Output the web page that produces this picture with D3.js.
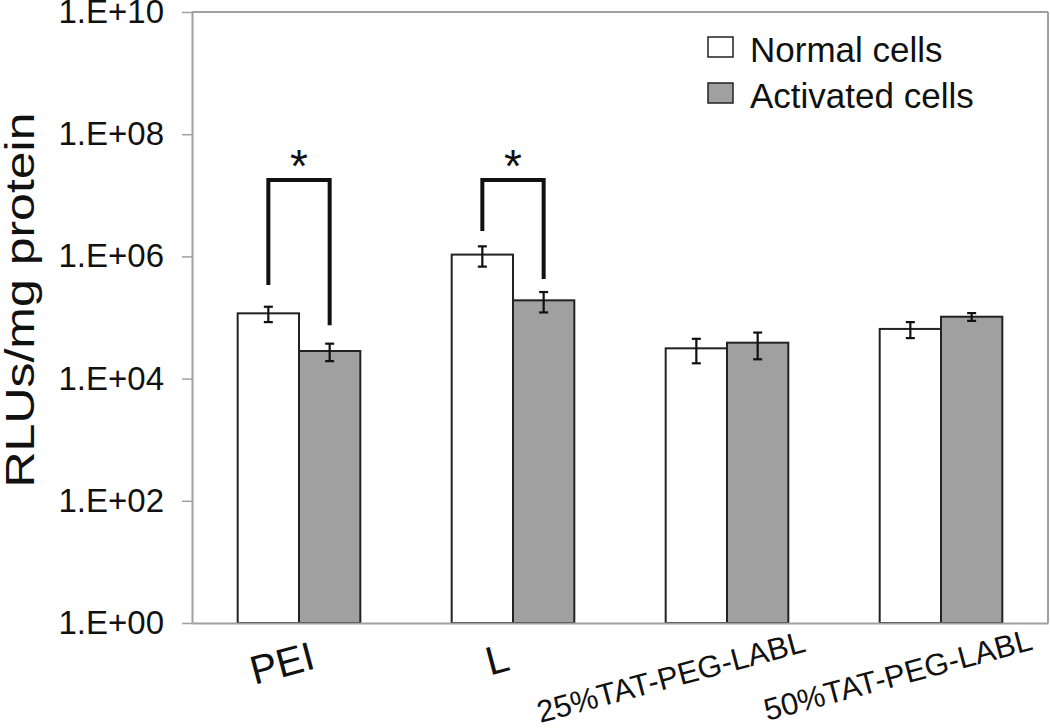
<!DOCTYPE html>
<html>
<head>
<meta charset="utf-8">
<script src="https://cdn.jsdelivr.net/npm/d3@7"></script>
<style>
  html, body { margin: 0; padding: 0; background: #fff; }
  svg { display: block; font-family: "Liberation Sans", Arial, sans-serif; }
</style>
</head>
<body>
<svg id="chart" width="1050" height="728"></svg>
<script>
// ---- data ----
const categories = ["PEI", "L", "25%TAT-PEG-LABL", "50%TAT-PEG-LABL"];
const seriesNames = ["Normal cells", "Activated cells"];
const normalValues = [1.17e5, 1.07e6, 3.13e4, 6.5e4];
const normalErrors = [3.3e4, 3.9e5, 1.35e4, 1.9e4];
const activatedValues = [2.83e4, 1.91e5, 3.87e4, 1.03e5];
const activatedErrors = [9e3, 7e4, 1.8e4, 1.5e4];
const tickValues = [1, 1e2, 1e4, 1e6, 1e8, 1e10];
const tickLabels = ["1.E+00", "1.E+02", "1.E+04", "1.E+06", "1.E+08", "1.E+10"];
// significance brackets: category, top value, left-leg bottom value, right-leg bottom value
const bracketCats = ["PEI", "L"];
const bracketTop = [1.78e7, 1.78e7];
const bracketLeftEnd = [3.4e5, 2.6e6];
const bracketRightEnd = [7.5e4, 4.27e5];
const yTitle = "RLUs/mg protein";

// ---- layout ----
const plot = { left: 192, right: 1048, top: 12, bottom: 623 };
const svg = d3.select("#chart");

const x0 = d3.scaleBand().domain(categories).range([plot.left, plot.right]).padding(0);
const x1 = d3.scaleBand().domain(seriesNames).range([0, x0.bandwidth()])
  .paddingInner(0).paddingOuter(0.745);
const y = d3.scaleLog().domain([1, 1e10]).range([plot.bottom, plot.top]);
const fills = { "Normal cells": "#ffffff", "Activated cells": "#a0a0a0" };

const rows = [];
categories.forEach((c, i) => {
  rows.push({ cat: c, s: seriesNames[0], v: normalValues[i], e: normalErrors[i] });
  rows.push({ cat: c, s: seriesNames[1], v: activatedValues[i], e: activatedErrors[i] });
});

const axisColor = "#a0a0a0";

// plot frame (top and right)
svg.append("line").attr("x1", plot.left).attr("x2", plot.right)
  .attr("y1", plot.top).attr("y2", plot.top)
  .attr("stroke", axisColor).attr("stroke-width", 2);
svg.append("line").attr("x1", plot.right).attr("x2", plot.right)
  .attr("y1", plot.top).attr("y2", plot.bottom)
  .attr("stroke", axisColor).attr("stroke-width", 2);

// bars
svg.append("g").selectAll("rect").data(rows).join("rect")
  .attr("x", d => x0(d.cat) + x1(d.s))
  .attr("width", x1.bandwidth())
  .attr("y", d => y(d.v))
  .attr("height", d => y(1) - y(d.v))
  .attr("fill", d => fills[d.s])
  .attr("stroke", "#222")
  .attr("stroke-width", 2);

// error bars
const eg = svg.append("g").attr("stroke", "#111").attr("stroke-width", 2.2);
rows.forEach(d => {
  const cx = x0(d.cat) + x1(d.s) + x1.bandwidth() / 2;
  const yt = y(d.v + d.e), yb = y(d.v - d.e);
  eg.append("line").attr("x1", cx).attr("x2", cx).attr("y1", yt).attr("y2", yb);
  eg.append("line").attr("x1", cx - 4.5).attr("x2", cx + 4.5).attr("y1", yt).attr("y2", yt);
  eg.append("line").attr("x1", cx - 4.5).attr("x2", cx + 4.5).attr("y1", yb).attr("y2", yb);
});

// y axis
const yAxis = d3.axisLeft(y).tickValues(tickValues)
  .tickFormat((d, i) => tickLabels[i]).tickSizeInner(10).tickSizeOuter(0).tickPadding(18);
const ga = svg.append("g").attr("transform", `translate(${plot.left},0)`).call(yAxis);
ga.select(".domain").attr("stroke", axisColor).attr("stroke-width", 2);
ga.selectAll(".tick line").attr("stroke", axisColor).attr("stroke-width", 1.5);
ga.selectAll(".tick text").attr("font-size", 33).attr("fill", "#111")
  .attr("font-family", "'Liberation Sans', Arial, sans-serif");

// x axis baseline
const xAxis = d3.axisBottom(x0).tickSize(0).tickFormat("");
const gx = svg.append("g").attr("transform", `translate(0,${plot.bottom})`).call(xAxis);
gx.select(".domain").attr("stroke", axisColor).attr("stroke-width", 2);

// x labels (rotated)
const labelSize = [40, 40, 31, 31];
const labelDx = [-17, -16, -56, -43];
const labelY = [663, 659, 677, 675];
svg.append("g").selectAll("text").data(categories).join("text")
  .attr("transform", (d, i) => `translate(${x0(d) + x0.bandwidth() / 2 + labelDx[i]},${labelY[i]}) rotate(-15)`)
  .attr("text-anchor", "middle")
  .attr("dominant-baseline", "central")
  .attr("font-size", (d, i) => labelSize[i])
  .attr("fill", "#111")
  .text(d => d);

// y title
svg.append("text")
  .attr("transform", `translate(34,300) rotate(-90)`)
  .attr("text-anchor", "middle")
  .attr("font-size", 40)
  .attr("textLength", 375)
  .attr("lengthAdjust", "spacingAndGlyphs")
  .attr("fill", "#111")
  .text(yTitle);

// significance brackets
const bg = svg.append("g");
bracketCats.forEach((c, i) => {
  const xl = x0(c) + x1(seriesNames[0]) + x1.bandwidth() / 2;
  const xr = x0(c) + x1(seriesNames[1]) + x1.bandwidth() / 2;
  const yt = y(bracketTop[i]);
  bg.append("path")
    .attr("d", `M${xl},${y(bracketLeftEnd[i])}V${yt}H${xr}V${y(bracketRightEnd[i])}`)
    .attr("fill", "none").attr("stroke", "#111").attr("stroke-width", 4)
    .attr("stroke-linejoin", "miter");
  bg.append("text")
    .attr("x", (xl + xr) / 2).attr("y", yt + 2)
    .attr("text-anchor", "middle")
    .attr("font-size", 46)
    .attr("fill", "#111")
    .text("*");
});

// legend
const lg = svg.append("g");
seriesNames.forEach((s, i) => {
  const ty = 37 + i * 46;
  lg.append("rect").attr("x", 708).attr("y", ty).attr("width", 25).attr("height", 20)
    .attr("fill", fills[s]).attr("stroke", "#222").attr("stroke-width", 1.5);
  lg.append("text").attr("x", 750).attr("y", ty + 25)
    .attr("font-size", 35).attr("fill", "#111").text(s);
});
</script>
</body>
</html>
